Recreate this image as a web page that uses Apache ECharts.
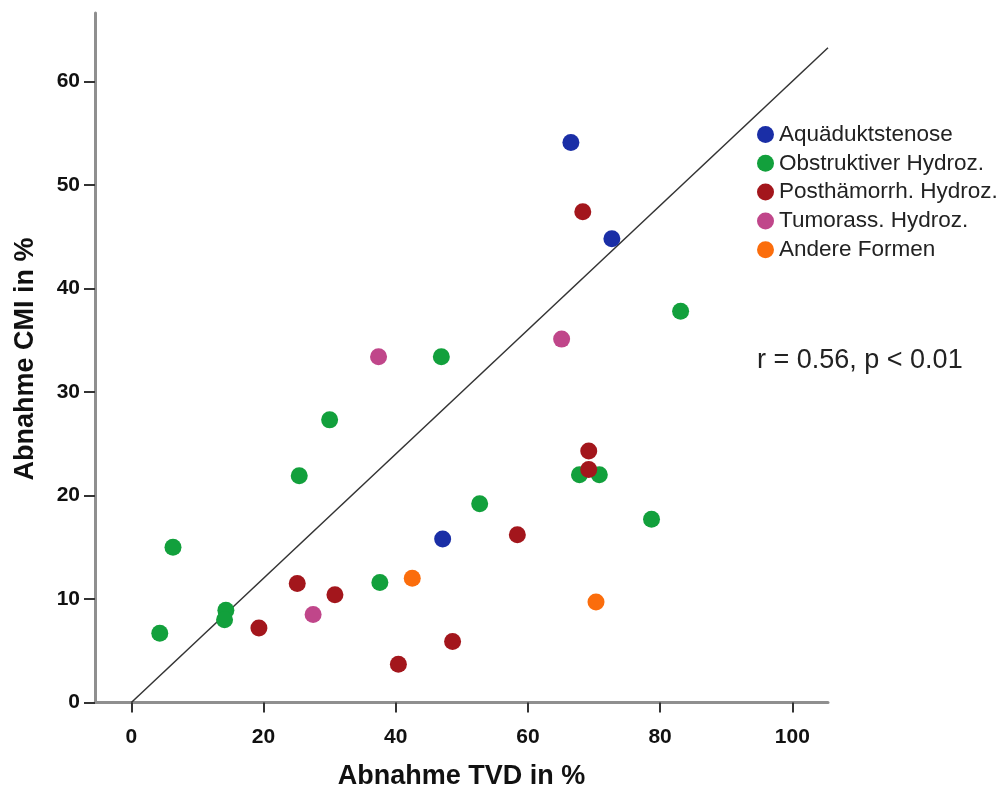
<!DOCTYPE html>
<html>
<head>
<meta charset="utf-8">
<script src="https://cdn.jsdelivr.net/npm/echarts@6/dist/echarts.min.js"></script>
<style>
  html, body { margin: 0; padding: 0; background: #fff; }
  #chart { width: 1001px; height: 791px; }
</style>
</head>
<body>
<div id="chart"></div>
<script>
const seriesNames = ['Aquäduktstenose', 'Obstruktiver Hydroz.', 'Posthämorrh. Hydroz.', 'Tumorass. Hydroz.', 'Andere Formen'];
const seriesColors = ['#1a2ea6', '#12a03c', '#a3161c', '#c0468a', '#fb6d0c'];

const aquaeduktstenose = [[66.5, 54.1], [72.7, 44.8], [47.1, 15.8]];
const obstruktiv = [[4.3, 6.7], [6.3, 15.0], [14.3, 8.9], [14.1, 8.0], [25.4, 21.9], [30.0, 27.3], [46.9, 33.4], [37.6, 11.6], [52.7, 19.2], [67.8, 22.0], [70.8, 22.0], [78.7, 17.7], [83.1, 37.8]];
const posthaemorrh = [[68.3, 47.4], [69.2, 24.3], [69.2, 22.5], [58.4, 16.2], [25.1, 11.5], [30.8, 10.4], [19.3, 7.2], [40.4, 3.7], [48.6, 5.9]];
const tumorass = [[37.4, 33.4], [65.1, 35.1], [27.5, 8.5]];
const andere = [[42.5, 12.0], [70.3, 9.7]];

const fitLine = [[0, 0], [105.4, 63.24]];

const xTicks = [0, 20, 40, 60, 80, 100];
const yTicks = [0, 10, 20, 30, 40, 50, 60];
const xRange = [-5.5, 105.4];
const yRange = [0, 66.6];

const groups = [aquaeduktstenose, obstruktiv, posthaemorrh, tumorass, andere];

const chart = echarts.init(document.getElementById('chart'), null, { renderer: 'canvas' });

const FONT = 'Liberation Sans, Arial, sans-serif';
const axisLineStyle = { color: '#8f8f8f', width: 3 };
const labelStyle = { fontFamily: FONT, fontWeight: 'bold', fontSize: 21, color: '#111' };

const series = [{
  type: 'line',
  data: fitLine,
  showSymbol: false,
  symbol: 'none',
  lineStyle: { color: '#333', width: 1.5 },
  silent: true,
  z: 1
}];
groups.forEach((g, i) => {
  series.push({
    name: seriesNames[i],
    type: 'scatter',
    data: g,
    symbol: 'circle',
    symbolSize: 17,
    itemStyle: { color: seriesColors[i], opacity: 1 },
    z: 2 + i
  });
});

chart.setOption({
  animation: false,
  backgroundColor: '#fff',
  grid: { left: 95, right: 173, top: 13, bottom: 88.5, containLabel: false, outerBoundsMode: 'none' },
  xAxis: {
    type: 'value',
    min: xRange[0],
    max: xRange[1],
    name: 'Abnahme TVD in %',
    nameLocation: 'middle',
    nameGap: 61,
    nameTextStyle: { fontFamily: FONT, fontWeight: 'bold', fontSize: 27, color: '#111' },
    axisLine: { show: true, onZero: false, lineStyle: axisLineStyle },
    axisTick: { show: true, length: 10, customValues: xTicks, lineStyle: { color: '#333', width: 2 } },
    axisLabel: { customValues: xTicks, margin: 24, ...labelStyle },
    splitLine: { show: false }
  },
  yAxis: {
    type: 'value',
    min: yRange[0],
    max: yRange[1],
    axisLine: { show: true, onZero: false, lineStyle: axisLineStyle },
    axisTick: { show: true, length: 11, customValues: yTicks, lineStyle: { color: '#333', width: 2 } },
    axisLabel: { customValues: yTicks, margin: 15, ...labelStyle },
    splitLine: { show: false }
  },
  legend: {
    data: seriesNames,
    orient: 'vertical',
    left: 752,
    top: 118,
    itemWidth: 17,
    itemHeight: 17,
    itemGap: 5.8,
    icon: 'circle',
    textStyle: { fontFamily: FONT, fontSize: 22.5, color: '#222', lineHeight: 22 }
  },
  graphic: [{
    type: 'text',
    left: 757,
    top: 347,
    style: { text: 'r = 0.56, p < 0.01', fontFamily: FONT, fontSize: 27, fill: '#222' }
  }, {
    type: 'text',
    x: 26,
    y: 359,
    rotation: Math.PI / 2,
    style: { text: 'Abnahme CMI in %', fontFamily: FONT, fontWeight: 'bold', fontSize: 27, fill: '#111', align: 'center', verticalAlign: 'middle' }
  }],
  series: series
});
</script>
</body>
</html>
